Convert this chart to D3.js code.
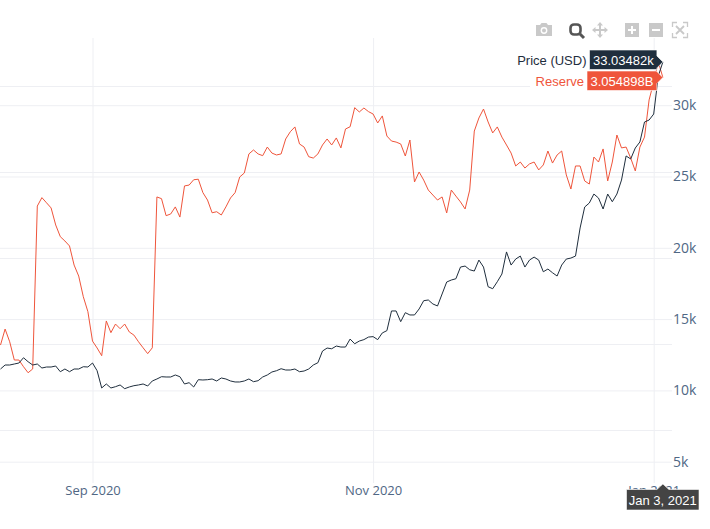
<!DOCTYPE html>
<html>
<head>
<meta charset="utf-8">
<script src="https://d3js.org/d3.v7.min.js"></script>
<style>
  html, body { margin: 0; padding: 0; background: #fff; overflow: hidden; }
  svg { display: block; }
  text { font-family: "Open Sans", sans-serif; }
  .hover text { font-family: "Liberation Sans", Arial, sans-serif; font-size: 13px; }
</style>
</head>
<body>
<div id="chart"></div>
<script>
// Daily values, Aug 12 2020 to Jan 3 2021
const startDate = '2020-08-12';

// BTC price in USD thousands
const priceK = [
  11.50, 11.78, 11.78, 11.85, 11.92, 12.29, 12.01, 11.78, 11.85, 11.57,
  11.64, 11.64, 11.71, 11.31, 11.50, 11.31, 11.50, 11.50, 11.66, 11.64,
  11.92, 11.38, 10.17, 10.45, 10.17, 10.26, 10.38, 10.12, 10.24, 10.33,
  10.38, 10.45, 10.31, 10.66, 10.80, 10.96, 10.94, 10.94, 11.08, 10.96,
  10.45, 10.54, 10.24, 10.75, 10.73, 10.75, 10.80, 10.66, 10.87, 10.80,
  10.66, 10.59, 10.59, 10.66, 10.80, 10.61, 10.68, 10.94, 11.08, 11.29,
  11.38, 11.52, 11.43, 11.43, 11.50, 11.31, 11.36, 11.50, 11.78, 11.94,
  12.76, 12.97, 12.92, 13.11, 13.04, 13.04, 13.60, 13.27, 13.46, 13.56,
  13.74, 13.77, 13.56, 14.03, 14.19, 15.57, 15.57, 14.82, 15.45, 15.29,
  15.29, 15.71, 16.29, 16.34, 16.06, 15.92, 16.76, 17.60, 17.74, 17.83,
  18.65, 18.72, 18.46, 18.37, 19.14, 18.65, 17.27, 17.13, 17.62, 18.16,
  19.71, 18.79, 19.21, 19.42, 18.65, 19.14, 19.35, 19.14, 18.32, 18.51,
  18.25, 18.02, 18.79, 19.21, 19.28, 19.42, 21.39, 22.86, 23.14, 23.77,
  23.49, 22.72, 23.77, 23.23, 23.77, 24.75, 26.44, 26.23, 27.00, 27.42,
  28.82, 28.96, 29.38, 32.05, 33.03482
];

// Exchange reserve in millions
const reserveM = [
  2899.4, 2908.7, 2901.3, 2890.7, 2890.7, 2886.8, 2883.3, 2885.5, 2980.2, 2985.1,
  2982.1, 2979.1, 2969.2, 2962.4, 2959.9, 2957.0, 2945.9, 2939.5, 2927.5, 2918.8,
  2901.7, 2897.7, 2893.2, 2913.4, 2906.6, 2911.6, 2908.9, 2911.6, 2907.0, 2905.2,
  2901.3, 2897.8, 2894.4, 2897.8, 2985.5, 2984.5, 2974.6, 2975.6, 2979.7, 2973.8,
  2991.9, 2992.4, 2995.5, 2995.8, 2988.0, 2983.7, 2976.3, 2976.9, 2975.0, 2979.7,
  2984.9, 2988.0, 2997.1, 2999.4, 3010.5, 3012.8, 3010.5, 3009.5, 3014.5, 3011.0,
  3009.9, 3010.5, 3019.2, 3023.4, 3026.2, 3016.3, 3014.5, 3008.9, 3008.1, 3010.5,
  3015.7, 3019.2, 3015.7, 3019.8, 3014.0, 3025.0, 3026.3, 3037.4, 3034.9, 3037.2,
  3035.1, 3033.7, 3028.5, 3032.6, 3020.9, 3018.0, 3017.4, 3016.3, 3009.3, 3018.6,
  2994.2, 3000.0, 2995.3, 2989.5, 2986.6, 2983.7, 2985.5, 2976.2, 2989.5, 2986.0,
  2982.6, 2978.5, 2989.5, 3023.8, 3031.4, 3036.6, 3029.1, 3022.7, 3026.2, 3020.3,
  3015.7, 3011.0, 3003.5, 3005.8, 3002.3, 3004.7, 3005.8, 3001.2, 3004.1, 3012.2,
  3005.2, 3009.9, 3012.2, 2998.3, 2990.1, 3003.5, 3003.5, 2994.8, 2993.0, 3008.7,
  3005.8, 3013.4, 2994.8, 3005.8, 3021.5, 3014.0, 3014.5, 3008.1, 3000.6, 3014.5,
  3020.3, 3041.9, 3052.3, 3064.0, 3054.898
];

const priceTicks = [5, 10, 15, 20, 25, 30];
const reserveTicks = [2850, 2900, 2950, 3000, 3050];
const dateTicks = ['2020-09-01', '2020-11-01', '2021-01-01'];

const width = 710;
const height = 529;
const plot = { left: 0, right: 672, top: 38, bottom: 483 };

const priceColor = '#1f2e3d';
const reserveColor = '#ef553b';
const gridColor = '#eeeff3';
const tickColor = '#506784';

const dates = priceK.map((d, i) => d3.utcDay.offset(new Date(startDate), i));

const x = d3.scaleUtc()
  .domain([dates[0], dates[dates.length - 1]])
  .range([0.5, 662.9]);

const yPrice = d3.scaleLinear()
  .domain([3.506, 34.712])
  .range([plot.bottom, plot.top]);

const yReserve = d3.scaleLinear()
  .domain([2819.2, 3077.9])
  .range([plot.bottom, plot.top]);

const svg = d3.select('#chart')
  .append('svg')
  .attr('width', width)
  .attr('height', height);

// Gridlines
const gridV = d3.axisBottom(x)
  .tickValues(dateTicks.map(d => new Date(d)))
  .tickSize(plot.bottom - plot.top)
  .tickFormat('');
svg.append('g')
  .attr('transform', `translate(0, ${plot.top})`)
  .call(gridV)
  .call(g => g.select('.domain').remove())
  .call(g => g.selectAll('line').attr('stroke', gridColor));

const gridReserve = d3.axisRight(yReserve)
  .tickValues(reserveTicks)
  .tickSize(plot.right)
  .tickFormat('');
svg.append('g')
  .call(gridReserve)
  .call(g => g.select('.domain').remove())
  .call(g => g.selectAll('line').attr('stroke', gridColor));

// Price axis carries the only y labels, on the right
const axisPrice = d3.axisRight(yPrice)
  .tickValues(priceTicks)
  .tickSize(plot.right)
  .tickPadding(1)
  .tickFormat(d => d + 'k');
svg.append('g')
  .call(axisPrice)
  .call(g => g.select('.domain').remove())
  .call(g => g.selectAll('line').attr('stroke', gridColor))
  .call(g => g.selectAll('text')
    .attr('fill', tickColor)
    .attr('font-size', 14));

const axisDate = d3.axisBottom(x)
  .tickValues(dateTicks.map(d => new Date(d)))
  .tickSize(0)
  .tickPadding(3)
  .tickFormat(d3.utcFormat('%b %Y'));
svg.append('g')
  .attr('transform', `translate(0, ${plot.bottom})`)
  .call(axisDate)
  .call(g => g.select('.domain').remove())
  .call(g => g.selectAll('text')
    .attr('fill', tickColor)
    .attr('font-size', 13));

// Lines
const reserveLine = d3.line()
  .x((d, i) => x(dates[i]))
  .y(d => yReserve(d));
const priceLine = d3.line()
  .x((d, i) => x(dates[i]))
  .y(d => yPrice(d));

svg.append('path')
  .datum(reserveM)
  .attr('d', reserveLine)
  .attr('fill', 'none')
  .attr('stroke', reserveColor)
  .attr('stroke-width', 1);

svg.append('path')
  .datum(priceK)
  .attr('d', priceLine)
  .attr('fill', 'none')
  .attr('stroke', priceColor)
  .attr('stroke-width', 1);

// Hover labels
const lastDate = dates[dates.length - 1];
const lastX = x(lastDate);
const fmt = d3.format('.7s');
const hover = svg.append('g').attr('class', 'hover');

function yLabel(name, value, tipY, boxLeft, boxTop, color, nameLeft) {
  const boxRight = lastX - 6;
  const boxBottom = boxTop + 19.5;
  hover.append('rect')
    .attr('x', nameLeft - 3)
    .attr('y', boxTop)
    .attr('width', boxLeft - nameLeft + 3)
    .attr('height', 19.5)
    .attr('fill', '#fff');
  // small arrow on the box side, as in the hover labels of the reference
  hover.append('path')
    .attr('d', `M${boxLeft},${boxTop}H${boxRight}V${tipY - 6}L${lastX},${tipY}L${boxRight},${tipY + 6}V${boxBottom}H${boxLeft}Z`)
    .attr('fill', color)
    .attr('stroke', '#fff')
    .attr('stroke-width', 0.6);
  hover.append('text')
    .attr('x', boxLeft + 3.5)
    .attr('y', boxTop + 14.5)
    .attr('fill', '#fff')
    .text(value);
  hover.append('text')
    .attr('x', boxLeft - 3)
    .attr('y', boxTop + 14.5)
    .attr('text-anchor', 'end')
    .attr('fill', color)
    .text(name);
}

yLabel('Price (USD)', fmt(priceK[priceK.length - 1] * 1000), yPrice(priceK[priceK.length - 1]), 589.5, 50, priceColor, 516);
yLabel('Reserve', fmt(reserveM[reserveM.length - 1] * 1e6).replace('M', 'B').replace('G', 'B'), yReserve(reserveM[reserveM.length - 1]), 587, 71, reserveColor, 533);

// Date label under the axis
hover.append('path')
  .attr('d', `M626.5,489.5H${lastX - 6}L${lastX},484L${lastX + 6},489.5H699V510H626.5Z`)
  .attr('fill', '#444')
  .attr('stroke', '#fff')
  .attr('stroke-width', 0.6);
hover.append('text')
  .attr('x', 662.7)
  .attr('y', 505)
  .attr('text-anchor', 'middle')
  .attr('fill', '#fff')
  .text(d3.utcFormat('%b %-d, %Y')(lastDate));

// Modebar icons
const bar = svg.append('g').attr('class', 'modebar');
const iconGrey = '#c9c9c9';

// camera
bar.append('path')
  .attr('d', 'M536,25H540L541.5,23H546.5L548,25H552V36H536Z')
  .attr('fill', iconGrey);
bar.append('circle').attr('cx', 544).attr('cy', 30.5).attr('r', 3.4).attr('fill', '#fff');
bar.append('circle').attr('cx', 544).attr('cy', 30.5).attr('r', 2).attr('fill', iconGrey);

// zoom, the active one
bar.append('rect')
  .attr('x', 570.5).attr('y', 24.5).attr('width', 10).attr('height', 10).attr('rx', 3.5)
  .attr('fill', 'none').attr('stroke', '#555').attr('stroke-width', 2.6);
bar.append('line')
  .attr('x1', 580).attr('y1', 34).attr('x2', 584).attr('y2', 38)
  .attr('stroke', '#555').attr('stroke-width', 3);

// pan
bar.append('path')
  .attr('d', 'M600,22L603,25.5H601V29H604.5V27L608,30L604.5,33V31H601V34.5H603L600,38L597,34.5H599V31H595.5V33L592,30L595.5,27V29H599V25.5H597Z')
  .attr('fill', iconGrey);

// zoom in / zoom out
bar.append('rect').attr('x', 625).attr('y', 23).attr('width', 14).attr('height', 14).attr('fill', iconGrey);
bar.append('path').attr('d', 'M632,26V34M628,30H636').attr('stroke', '#fff').attr('stroke-width', 2);
bar.append('rect').attr('x', 649).attr('y', 23).attr('width', 14).attr('height', 14).attr('fill', iconGrey);
bar.append('path').attr('d', 'M652,30H660').attr('stroke', '#fff').attr('stroke-width', 2);

// autoscale
bar.append('path')
  .attr('d', 'M672.5,27V22.5H677M683,22.5H687.5V27M687.5,33V37.5H683M677,37.5H672.5V33')
  .attr('fill', 'none').attr('stroke', iconGrey).attr('stroke-width', 1.3);
bar.append('path')
  .attr('d', 'M676,26L684,34M684,26L676,34')
  .attr('stroke', iconGrey).attr('stroke-width', 1.8);
</script>
</body>
</html>
